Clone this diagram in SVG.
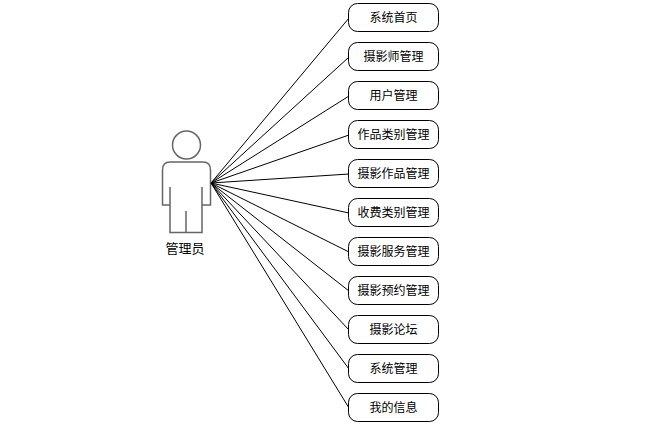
<svg xmlns="http://www.w3.org/2000/svg" width="661" height="425" viewBox="0 0 661 425">
<style>
.n rect{fill:#fff;stroke:#000;stroke-width:1}
text{font-family:"Noto Sans CJK SC","Liberation Sans",sans-serif;font-size:12px;fill:#000;text-anchor:middle}
#connectors line{stroke:#000;stroke-width:1}
.p{fill:none;stroke:#666;stroke-width:1.500}
</style>
<rect width="661" height="425" fill="#fff"/>
<g id="actor">
<circle class="p" cx="186.500" cy="145" r="14"/>
<path class="p" d="M170 205H162.500V170Q162.500 162 170 162H203Q210.500 162 210.500 170V205H202M170 187V232.500H202V187M186 211V232.500"/>
<text x="185" y="253" style="font-size:13px">管理员</text>
</g>
<g id="connectors">
<line x1="211" y1="183" x2="349" y2="18"/>
<line x1="211" y1="183" x2="349" y2="57"/>
<line x1="211" y1="183" x2="349" y2="96"/>
<line x1="211" y1="183" x2="349" y2="135"/>
<line x1="211" y1="183" x2="349" y2="174"/>
<line x1="211" y1="183" x2="349" y2="213"/>
<line x1="211" y1="183" x2="349" y2="252"/>
<line x1="211" y1="183" x2="349" y2="291"/>
<line x1="211" y1="183" x2="349" y2="330"/>
<line x1="211" y1="183" x2="349" y2="369"/>
<line x1="211" y1="183" x2="349" y2="408"/>
</g>
<g id="n1" class="n"><rect x="348.500" y="3.500" width="90" height="28" rx="9"/><text x="393.500" y="22">系统首页</text></g>
<g id="n2" class="n"><rect x="348.500" y="42.500" width="90" height="28" rx="9"/><text x="393.500" y="61">摄影师管理</text></g>
<g id="n3" class="n"><rect x="348.500" y="81.500" width="90" height="28" rx="9"/><text x="393.500" y="100">用户管理</text></g>
<g id="n4" class="n"><rect x="348.500" y="120.500" width="90" height="28" rx="9"/><text x="393.500" y="139">作品类别管理</text></g>
<g id="n5" class="n"><rect x="348.500" y="159.500" width="90" height="28" rx="9"/><text x="393.500" y="178">摄影作品管理</text></g>
<g id="n6" class="n"><rect x="348.500" y="198.500" width="90" height="28" rx="9"/><text x="393.500" y="217">收费类别管理</text></g>
<g id="n7" class="n"><rect x="348.500" y="237.500" width="90" height="28" rx="9"/><text x="393.500" y="256">摄影服务管理</text></g>
<g id="n8" class="n"><rect x="348.500" y="276.500" width="90" height="28" rx="9"/><text x="393.500" y="295">摄影预约管理</text></g>
<g id="n9" class="n"><rect x="348.500" y="315.500" width="90" height="28" rx="9"/><text x="393.500" y="334">摄影论坛</text></g>
<g id="n10" class="n"><rect x="348.500" y="354.500" width="90" height="28" rx="9"/><text x="393.500" y="373">系统管理</text></g>
<g id="n11" class="n"><rect x="348.500" y="393.500" width="90" height="28" rx="9"/><text x="393.500" y="412">我的信息</text></g>
</svg>
